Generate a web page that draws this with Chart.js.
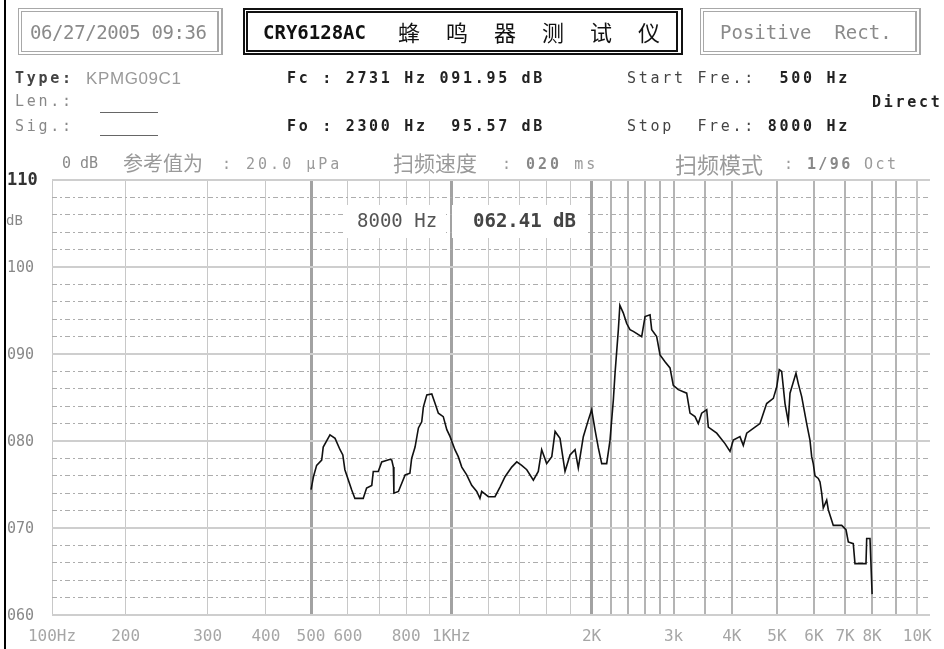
<!DOCTYPE html>
<html>
<head>
<meta charset="utf-8">
<title>CRY6128AC 蜂鸣器测试仪</title>
<script src="https://cdn.jsdelivr.net/npm/chart.js@4.4.1/dist/chart.umd.min.js"></script>
<style>
    body { margin: 0; background: #fff; }
    #page { position: relative; width: 944px; height: 649px; overflow: hidden; font-family: "DejaVu Sans Mono", monospace; }
    #chart-wrap { position: absolute; left: 0; top: 0; width: 944px; height: 649px; }
    .t { position: absolute; white-space: pre; line-height: 1; z-index: 2; }
    .box { position: absolute; top: 8px; height: 47px; box-sizing: border-box; z-index: 2; }
    .info { font-size: 15px; letter-spacing: 2.7px; color: #444; }
    .cjk { font-family: "Noto Sans CJK SC", sans-serif; }
    .gray { color: #9a9a9a; }
    .mask { position: absolute; background: #fff; z-index: 1; }
    .uline { position: absolute; left: 100px; width: 58px; height: 1px; background: #666; z-index: 2; }
</style>
</head>
<body>
<div id="page">
    <div style="position:absolute;left:4px;top:0;width:2px;height:649px;background:#000;z-index:3"></div>

    <!-- header boxes -->
    <div class="box" style="left:18px;width:205px;border:4px double #a8a8a8;border-right-width:6px"></div>
    <div class="t" style="left:30px;top:23px;font-size:19px;letter-spacing:-0.4px;color:#8a8a8a">06/27/2005 09:36</div>

    <div class="box" style="left:243px;width:440px;border:5px double #111;border-right-width:7px"></div>
    <div class="t" style="left:263px;top:23px;font-size:19px;font-weight:bold;color:#111">CRY6128AC</div>
    <div class="t cjk" style="left:398px;top:20px;font-size:22px;letter-spacing:26px;color:#111">蜂鸣器测试仪</div>

    <div class="box" style="left:700px;width:221px;border:4px double #a8a8a8;border-right-width:6px"></div>
    <div class="t" style="left:720px;top:23px;font-size:19px;color:#8a8a8a">Positive  Rect.</div>

    <!-- info rows -->
    <div class="t info" style="left:15px;top:71px;font-weight:bold">Type:</div>
    <div class="t" style="left:86px;top:70px;font-family:'Liberation Sans',sans-serif;font-size:17px;letter-spacing:0.6px;color:#999">KPMG09C1</div>
    <div class="t info gray" style="left:15px;top:94px;color:#888">Len.:</div>
    <div class="uline" style="top:112px"></div>
    <div class="t info gray" style="left:15px;top:119px;color:#888">Sig.:</div>
    <div class="uline" style="top:135px"></div>

    <div class="t info" style="left:287px;top:71px;font-weight:bold;color:#222">Fc : 2731 Hz 091.95 dB</div>
    <div class="t info" style="left:287px;top:119px;font-weight:bold;color:#222">Fo : 2300 Hz  95.57 dB</div>

    <div class="t info" style="left:627px;top:71px">Start Fre.:  <b style="color:#222">500 Hz</b></div>
    <div class="t info" style="left:872px;top:95px;font-weight:bold;color:#222">Direct</div>
    <div class="t info" style="left:627px;top:119px">Stop  Fre.: <b style="color:#222">8000 Hz</b></div>

    <!-- settings row -->
    <div class="t" style="left:62px;top:156px;font-size:15px;color:#8a8a8a">0 dB</div>
    <div class="t cjk gray" style="left:123px;top:153px;font-size:20px">参考值为</div>
    <div class="t gray" style="left:222px;top:157px;font-size:15px;letter-spacing:3px">: 20.0 μPa</div>
    <div class="t cjk gray" style="left:393px;top:152px;font-size:21px">扫频速度</div>
    <div class="t gray" style="left:502px;top:157px;font-size:15px;letter-spacing:3px">: <b style="color:#888">020</b> ms</div>
    <div class="t cjk gray" style="left:675px;top:152px;font-size:22px">扫频模式</div>
    <div class="t gray" style="left:784px;top:157px;font-size:15px;letter-spacing:2.4px">: <b style="color:#888">1/96</b> Oct</div>

    <div class="t" style="left:6px;top:213px;font-size:14px;color:#888">dB</div>

    <!-- cursor readout inside the plot -->
    <div class="mask" style="left:344px;top:205px;width:102px;height:33px"></div>
    <div class="mask" style="left:452px;top:205px;width:136px;height:33px"></div>
    <div class="t" style="left:357px;top:211px;font-size:19px;color:#555">8000 Hz</div>
    <div class="t" style="left:473px;top:211px;font-size:19px;font-weight:bold;color:#444">062.41 dB</div>

    <div id="chart-wrap"><canvas id="response-chart"></canvas></div>
</div>

<script>
// Sweep 500 Hz .. 8000 Hz, values
const freqHz = [
    500, 506, 514, 527, 531, 549, 563, 577, 585, 591,
    611, 621, 647, 658, 675, 680, 697, 709, 739, 745,
    751, 753, 770, 796, 815, 822, 836, 850, 864, 871,
    886, 908, 923, 938, 961, 978, 994, 1018, 1035, 1053,
    1079, 1106, 1134, 1152, 1162, 1201, 1241, 1272, 1304, 1348,
    1382, 1416, 1452, 1500, 1537, 1563, 1602, 1643, 1670, 1711,
    1754, 1798, 1843, 1873, 1920, 1968, 2001, 2034, 2068, 2103,
    2155, 2191, 2227, 2246, 2283, 2300, 2340, 2379, 2418, 2458,
    2562, 2605, 2670, 2692, 2759, 2805, 2875, 2947, 2995, 3070,
    3200, 3253, 3334, 3389, 3446, 3533, 3561, 3712, 3867, 3964,
    4029, 4164, 4233, 4305, 4485, 4597, 4751, 4910, 4993, 5057,
    5117, 5202, 5287, 5332, 5492, 5555, 5649, 5790, 5885, 5935,
    5982, 6033, 6132, 6184, 6236, 6285, 6392, 6443, 6604, 6884,
    7032, 7112, 7289, 7351, 7762, 7789, 7917, 8000
];
const levelDb = [
    74.4, 75.9, 77.2, 77.8, 79.3, 80.7, 80.3, 79.0, 78.4, 76.7,
    74.4, 73.4, 73.4, 74.6, 74.9, 76.5, 76.5, 77.6, 77.9, 77.8,
    77.0, 74.0, 74.2, 76.1, 76.3, 78.0, 79.3, 81.5, 82.2, 83.9,
    85.3, 85.4, 84.3, 83.2, 82.8, 81.3, 80.5, 79.0, 78.2, 77.0,
    76.1, 74.9, 74.2, 73.4, 74.2, 73.6, 73.6, 74.7, 75.9, 77.0,
    77.6, 77.2, 76.7, 75.5, 76.5, 79.0, 77.4, 78.2, 81.1, 80.3,
    76.5, 78.4, 79.0, 76.9, 80.5, 82.4, 83.6, 81.3, 79.2, 77.4,
    77.4, 80.1, 84.7, 87.8, 92.8, 95.6, 94.7, 93.5, 92.8, 92.6,
    92.0, 94.3, 94.5, 92.8, 92.0, 89.9, 89.1, 88.4, 86.4, 85.9,
    85.5, 83.2, 82.8, 82.0, 83.2, 83.6, 81.6, 80.9, 79.7, 78.8,
    80.1, 80.5, 79.5, 80.9, 81.6, 82.0, 84.3, 84.9, 86.2, 88.2,
    88.0, 84.3, 82.2, 85.5, 87.8, 86.6, 85.1, 82.0, 80.1, 78.2,
    77.4, 76.0, 75.7, 75.3, 74.0, 72.3, 73.2, 72.1, 70.3, 70.3,
    69.8, 68.4, 68.2, 65.9, 65.9, 68.8, 68.8, 62.4
];

// Frequency grid of the instrument and the labels printed under it
const xTickHz = [100, 200, 300, 400, 500, 600, 700, 800, 900, 1000,
    1200, 1400, 1600, 1800, 2000, 2200, 2400, 2600, 2800, 3000,
    3500, 4000, 5000, 6000, 7000, 8000, 9000, 10000];
const xTickLabels = ['100Hz', '200', '300', '400', '500', '600', '', '800', '', '1KHz',
    '', '', '', '', '2K', '', '', '', '', '3k',
    '', '4K', '5K', '6K', '7K', '8K', '', '10K'];

const yTickDb = [60, 70, 80, 90, 100, 110];
const yTickLabels = ['060', '070', '080', '090', '100', '110'];

// The screen's log axis is squeezed at both ends; these limits make 200 Hz..8 kHz line up
const X_MIN = 139;
const X_MAX = 10650;

function gridStyle(hz) {
    if (hz === 500 || hz === 1000 || hz === 2000) return { color: '#a2a2a2', width: 3 };
    if (hz === 10000) return { color: '#c4c4c4', width: 2 };
    if (hz >= 2200) return { color: '#b4b4b4', width: 2 };
    return { color: '#c8c8c8', width: 1 };
}

// tick value of a scriptable context (undefined when the scale itself is resolved)
const tickVal = (c) => (c && c.tick ? c.tick.value : undefined);
const isDecade = (c) => tickVal(c) !== undefined && tickVal(c) % 10 === 0;

const ctx = document.getElementById('response-chart').getContext('2d');
new Chart(ctx, {
    type: 'line',
    data: {
        datasets: [{
            data: freqHz.map((f, i) => ({ x: f, y: levelDb[i] })),
            borderColor: '#111',
            borderWidth: 1.6,
            pointRadius: 0,
            tension: 0,
            fill: false
        }]
    },
    options: {
        responsive: true,
        maintainAspectRatio: false,
        animation: false,
        layout: { padding: { left: 7, top: 180, right: 14, bottom: 0 } },
        plugins: { legend: { display: false }, tooltip: { enabled: false }, title: { display: false } },
        scales: {
            x: {
                type: 'logarithmic',
                min: X_MIN,
                max: X_MAX,
                afterBuildTicks: (scale) => {
                    scale.ticks = xTickHz.map(v => ({ value: Math.min(Math.max(v, X_MIN), X_MAX) }));
                },
                afterFit: (scale) => { scale.height = 34; scale.paddingLeft = 0; scale.paddingRight = 0; },
                ticks: {
                    autoSkip: false,
                    maxRotation: 0,
                    padding: 12,
                    color: '#a6a6a6',
                    font: { family: 'DejaVu Sans Mono', size: 16 },
                    callback: (value, index) => xTickLabels[index]
                },
                grid: {
                    drawTicks: false,
                    color: (c) => gridStyle(xTickHz[c.index]).color,
                    lineWidth: (c) => gridStyle(xTickHz[c.index]).width
                },
                border: { display: false }
            },
            y: {
                min: 60,
                max: 110,
                afterFit: (scale) => { scale.width = 45; scale.paddingTop = 0; scale.paddingBottom = 0; },
                ticks: {
                    stepSize: 2,
                    autoSkip: false,
                    crossAlign: 'far',
                    padding: 4,
                    labelOffset: 1,
                    color: (c) => tickVal(c) === 110 ? '#333' : '#888',
                    font: (c) => tickVal(c) === 110
                        ? { family: 'DejaVu Sans Mono', size: 17, weight: 'bold' }
                        : { family: 'DejaVu Sans Mono', size: 15 },
                    callback: (value) => {
                        const i = yTickDb.indexOf(value);
                        return i >= 0 ? yTickLabels[i] : '';
                    }
                },
                grid: {
                    drawTicks: false,
                    color: (c) => isDecade(c) ? '#cecece' : '#adadad',
                    lineWidth: (c) => isDecade(c) ? 2 : 1
                },
                // dotted 2 dB lines, solid every 10 dB
                border: {
                    display: false,
                    dash: (c) => tickVal(c) !== undefined && !isDecade(c) ? [5, 3, 2, 3] : []
                }
            }
        }
    }
});
</script>
</body>
</html>
